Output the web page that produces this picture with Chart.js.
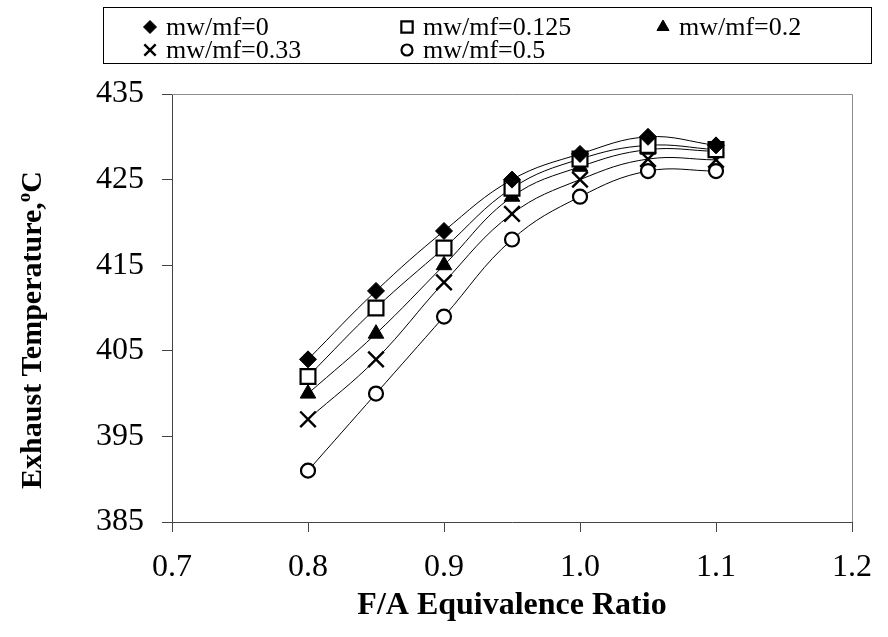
<!DOCTYPE html>
<html>
<head>
<meta charset="utf-8">
<script src="https://cdn.jsdelivr.net/npm/chart.js@4"></script>
<style>
  html, body { margin: 0; padding: 0; background: #fff; }
  #wrap { width: 888px; height: 637px; position: relative; }
</style>
</head>
<body>
<div id="wrap"><canvas id="tempChart"></canvas></div>
<script>
// F/A equivalence ratio
const ratios = [0.8, 0.85, 0.9, 0.95, 1.0, 1.05, 1.1];

// exhaust temperature (C) per water/fuel ratio
const mw0 = [404, 412, 419, 425, 428, 430, 429];
const mw0125 = [402, 410, 417, 424, 427.4, 429, 428.5];
const mw02 = [400, 407, 415, 423, 426.5, 428.5, 428.3];
const mw033 = [397, 404, 413, 421, 425, 427.4, 427.3];
const mw05 = [391, 400, 409, 418, 423, 426, 426];

const seriesLabels = ['mw/mf=0', 'mw/mf=0.125', 'mw/mf=0.2', 'mw/mf=0.33', 'mw/mf=0.5'];
const yTicks = [385, 395, 405, 415, 425, 435];
const xTicks = [0.7, 0.8, 0.9, 1.0, 1.1, 1.2];

const FONT = "'Liberation Serif', 'Times New Roman', serif";

function toPoints(vals) {
    return ratios.map((r, i) => ({ x: r, y: vals[i] }));
}

// marker styles for each series (chart and legend)
const markers = [
    { style: 'rectRot', r: 8.5, lr: 6.5, fill: '#000', bw: 1 },
    { style: 'rect', r: 10.5, lr: 8, fill: '#fff', bw: 2.2 },
    { style: 'triangle', r: 9, lr: 7, fill: '#000', bw: 1 },
    { style: 'crossRot', r: 11, lr: 8, fill: '#000', bw: 2.4 },
    { style: 'circle', r: 7, lr: 5.5, fill: '#fff', bw: 2.2 }
];

const allSeries = [mw0, mw0125, mw02, mw033, mw05];

const datasets = allSeries.map((vals, i) => ({
    label: seriesLabels[i],
    data: toPoints(vals),
    borderColor: '#000',
    borderWidth: 1,
    tension: 0.4,
    pointStyle: markers[i].style,
    pointRadius: markers[i].r,
    pointBackgroundColor: markers[i].fill,
    pointBorderColor: '#000',
    pointBorderWidth: markers[i].bw,
    pointHoverRadius: markers[i].r
}));

const decor = {
    id: 'decor',
    afterDraw(chart) {
        const ctx = chart.ctx;
        const a = chart.chartArea;
        ctx.save();

        // top and right frame of the plot area
        ctx.strokeStyle = '#8c8c8c';
        ctx.lineWidth = 1;
        ctx.beginPath();
        ctx.moveTo(a.left, a.top + 0.5);
        ctx.lineTo(a.right + 0.5, a.top + 0.5);
        ctx.lineTo(a.right + 0.5, a.bottom);
        ctx.stroke();

        // x axis title
        ctx.fillStyle = '#000';
        ctx.font = 'bold 32px ' + FONT;
        ctx.textAlign = 'center';
        ctx.textBaseline = 'alphabetic';
        ctx.fillText('F/A Equivalence Ratio', (a.left + a.right) / 2, 614);

        // y axis title with superscript o
        const main = 'Exhaust Temperature,';
        ctx.save();
        ctx.translate(41, 330);
        ctx.rotate(-Math.PI / 2);
        ctx.font = 'bold 30px ' + FONT;
        const w1 = ctx.measureText(main).width;
        ctx.font = 'bold 19px ' + FONT;
        const w2 = ctx.measureText('o').width;
        ctx.font = 'bold 30px ' + FONT;
        const w3 = ctx.measureText('C').width;
        let x0 = -(w1 + w2 + w3) / 2;
        ctx.textAlign = 'left';
        ctx.fillText(main, x0, 0);
        ctx.font = 'bold 19px ' + FONT;
        ctx.fillText('o', x0 + w1, -11);
        ctx.font = 'bold 30px ' + FONT;
        ctx.fillText('C', x0 + w1 + w2, 0);
        ctx.restore();

        // legend box
        ctx.strokeStyle = '#000';
        ctx.lineWidth = 1;
        ctx.strokeRect(103.5, 7.5, 768, 56);
        const cols = [150, 407, 663];
        const rows = [27, 50];
        ctx.font = '26px ' + FONT;
        ctx.textAlign = 'left';
        ctx.textBaseline = 'middle';
        seriesLabels.forEach((lab, i) => {
            const cx = cols[i % 3];
            const cy = rows[Math.floor(i / 3)];
            const m = markers[i];
            ctx.fillStyle = m.fill;
            ctx.strokeStyle = '#000';
            ctx.lineWidth = m.bw;
            Chart.helpers.drawPoint(ctx, {
                pointStyle: m.style, radius: m.lr, borderWidth: m.bw, rotation: 0
            }, cx, cy);
            ctx.fillStyle = '#000';
            ctx.fillText(lab, cx + 16, cy + 1);
        });

        ctx.restore();
    }
};

const chart = new Chart(document.getElementById('tempChart'), {
    type: 'line',
    data: { datasets: datasets },
    options: {
        responsive: true,
        maintainAspectRatio: false,
        animation: false,
        layout: { padding: { top: 94, right: 25, left: 0, bottom: 0 } },
        plugins: {
            legend: { display: false },
            tooltip: { enabled: false }
        },
        scales: {
            x: {
                type: 'linear',
                min: 0.7,
                max: 1.2,
                afterFit: s => { s.height = 115; },
                afterBuildTicks: s => { s.ticks = xTicks.map(v => ({ value: v })); },
                border: { color: '#444', width: 1 },
                grid: { drawOnChartArea: false, drawTicks: true, tickLength: 10, color: '#444' },
                ticks: {
                    color: '#000',
                    padding: 16,
                    maxRotation: 0,
                    font: { family: FONT, size: 32 },
                    callback: v => v.toFixed(1)
                }
            },
            y: {
                min: 385,
                max: 435,
                afterFit: s => { s.width = 172; },
                afterBuildTicks: s => { s.ticks = yTicks.map(v => ({ value: v })); },
                border: { color: '#444', width: 1 },
                grid: { drawOnChartArea: false, drawTicks: true, tickLength: 10, color: '#444' },
                ticks: {
                    color: '#000',
                    padding: 18,
                    font: { family: FONT, size: 32 }
                }
            }
        }
    },
    plugins: [decor]
});
</script>
</body>
</html>
